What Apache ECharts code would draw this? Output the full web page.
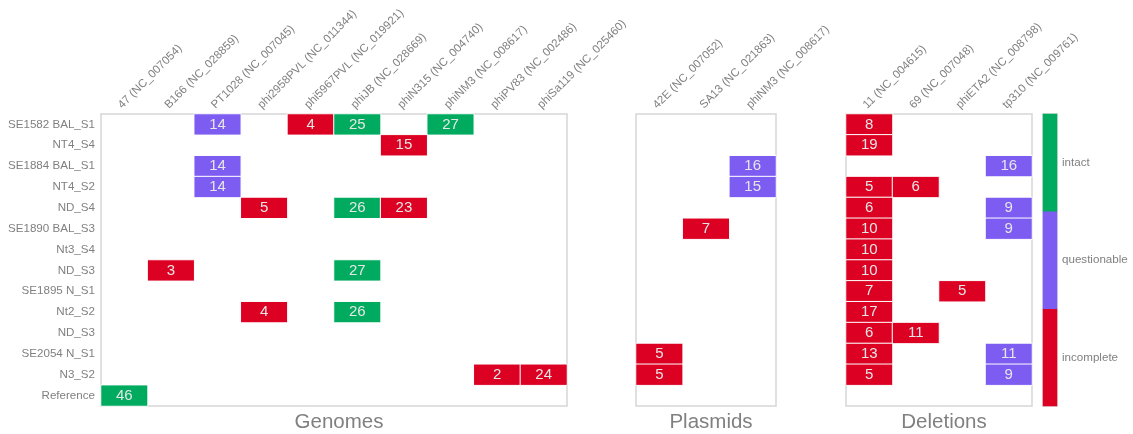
<!DOCTYPE html>
<html>
<head>
<meta charset="utf-8">
<script src="https://cdn.jsdelivr.net/npm/echarts@6/dist/echarts.min.js"></script>
<style>
  html, body { margin: 0; padding: 0; background: #ffffff; }
  #chart { width: 1133px; height: 434px; }
</style>
</head>
<body>
<div id="chart"></div>
<script>
// Samples (rows, top to bottom)
const samples = ['SE1582 BAL_S1', 'NT4_S4', 'SE1884 BAL_S1', 'NT4_S2', 'ND_S4', 'SE1890 BAL_S3',
  'Nt3_S4', 'ND_S3', 'SE1895 N_S1', 'Nt2_S2', 'ND_S3', 'SE2054 N_S1', 'N3_S2', 'Reference'];

// Column categories for each panel
const genomeCols = ['47 (NC_007054)', 'B166 (NC_028859)', 'PT1028 (NC_007045)', 'phi2958PVL (NC_011344)',
  'phi5967PVL (NC_019921)', 'phiJB (NC_028669)', 'phiN315 (NC_004740)', 'phiNM3 (NC_008617)',
  'phiPV83 (NC_002486)', 'phiSa119 (NC_025460)'];
const plasmidCols = ['42E (NC_007052)', 'SA13 (NC_021863)', 'phiNM3 (NC_008617)'];
const deletionCols = ['11 (NC_004615)', '69 (NC_007048)', 'phiETA2 (NC_008798)', 'tp310 (NC_009761)'];

// Status classes: 0 = incomplete, 1 = questionable, 2 = intact
const statusNames = ['incomplete', 'questionable', 'intact'];
const statusColors = ['#dc0022', '#7d5cf2', '#00ab60'];

// Cells: [row, column, count, status]
const genomeCells = [
  [0, 2, 14, 1], [0, 4, 4, 0], [0, 5, 25, 2], [0, 7, 27, 2],
  [1, 6, 15, 0],
  [2, 2, 14, 1],
  [3, 2, 14, 1],
  [4, 3, 5, 0], [4, 5, 26, 2], [4, 6, 23, 0],
  [7, 1, 3, 0], [7, 5, 27, 2],
  [9, 3, 4, 0], [9, 5, 26, 2],
  [12, 8, 2, 0], [12, 9, 24, 0],
  [13, 0, 46, 2]
];
const plasmidCells = [
  [2, 2, 16, 1], [3, 2, 15, 1],
  [5, 1, 7, 0],
  [11, 0, 5, 0], [12, 0, 5, 0]
];
const deletionCells = [
  [0, 0, 8, 0],
  [1, 0, 19, 0],
  [2, 3, 16, 1],
  [3, 0, 5, 0], [3, 1, 6, 0],
  [4, 0, 6, 0], [4, 3, 9, 1],
  [5, 0, 10, 0], [5, 3, 9, 1],
  [6, 0, 10, 0],
  [7, 0, 10, 0],
  [8, 0, 7, 0], [8, 2, 5, 0],
  [9, 0, 17, 0],
  [10, 0, 6, 0], [10, 1, 11, 0],
  [11, 0, 13, 0], [11, 3, 11, 1],
  [12, 0, 5, 0], [12, 3, 9, 1]
];

const panelTitles = ['Genomes', 'Plasmids', 'Deletions'];

const grey = '#808080';
const fontFamily = 'Liberation Sans, Arial, sans-serif';

const grids = [
  { left: 101, top: 114, width: 466, height: 292 },
  { left: 636, top: 114, width: 140, height: 292 },
  { left: 846, top: 114, width: 186, height: 292 },
  { left: 1043, top: 114, width: 14, height: 292 }
].map(g => Object.assign({ show: true, borderColor: '#d6d6d6', borderWidth: 1.5, backgroundColor: 'transparent' }, g));

function topAxis(cols, gi) {
  return {
    type: 'category', gridIndex: gi, position: 'top', data: cols,
    axisLine: { show: false }, axisTick: { show: false }, splitLine: { show: false },
    axisLabel: {
      interval: 0, rotate: -45, verticalAlign: 'bottom',
      color: grey, fontSize: 11.5, fontFamily, margin: 3
    }
  };
}
function sampleAxis(gi, showLabels) {
  return {
    type: 'category', gridIndex: gi, data: samples, inverse: true,
    axisLine: { show: false }, axisTick: { show: false }, splitLine: { show: false },
    axisLabel: { show: showLabels, interval: 0, color: grey, fontSize: 11.6, fontFamily, margin: 6 }
  };
}

function toHeat(cells) {
  return cells.map(c => [c[1], c[0], c[3], c[2]]);
}
function panelSeries(cells, gi) {
  return {
    type: 'heatmap', xAxisIndex: gi, yAxisIndex: gi,
    data: toHeat(cells),
    itemStyle: { borderColor: '#ffffff', borderWidth: 1 },
    label: {
      show: true, formatter: p => String(p.value[3]),
      color: '#e6e6e6', fontSize: 15, fontFamily
    },
    emphasis: { disabled: true }
  };
}

const option = {
  animation: false,
  backgroundColor: '#ffffff',
  grid: grids,
  title: panelTitles.map((t, i) => ({
    text: t,
    left: grids[i].left + grids[i].width / 2,
    top: 407,
    textAlign: 'center',
    textStyle: { color: grey, fontSize: 20.5, fontWeight: 'normal', fontFamily }
  })),
  xAxis: [
    topAxis(genomeCols, 0),
    topAxis(plasmidCols, 1),
    topAxis(deletionCols, 2),
    { type: 'category', gridIndex: 3, data: ['status'], show: false }
  ],
  yAxis: [
    sampleAxis(0, true),
    sampleAxis(1, false),
    sampleAxis(2, false),
    {
      type: 'category', gridIndex: 3, data: statusNames, position: 'right',
      axisLine: { show: false }, axisTick: { show: false }, splitLine: { show: false },
      axisLabel: { color: grey, fontSize: 11.6, fontFamily, margin: 5 }
    }
  ],
  visualMap: {
    type: 'piecewise', show: false, dimension: 2,
    seriesIndex: [0, 1, 2, 3],
    pieces: statusNames.map((n, i) => ({ value: i, color: statusColors[i], label: n }))
  },
  series: [
    panelSeries(genomeCells, 0),
    panelSeries(plasmidCells, 1),
    panelSeries(deletionCells, 2),
    {
      type: 'heatmap', xAxisIndex: 3, yAxisIndex: 3,
      data: statusNames.map((n, i) => [0, i, i]),
      label: { show: false },
      emphasis: { disabled: true }
    }
  ]
};

const chart = echarts.init(document.getElementById('chart'), null, { renderer: 'canvas' });
chart.setOption(option);
</script>
</body>
</html>
